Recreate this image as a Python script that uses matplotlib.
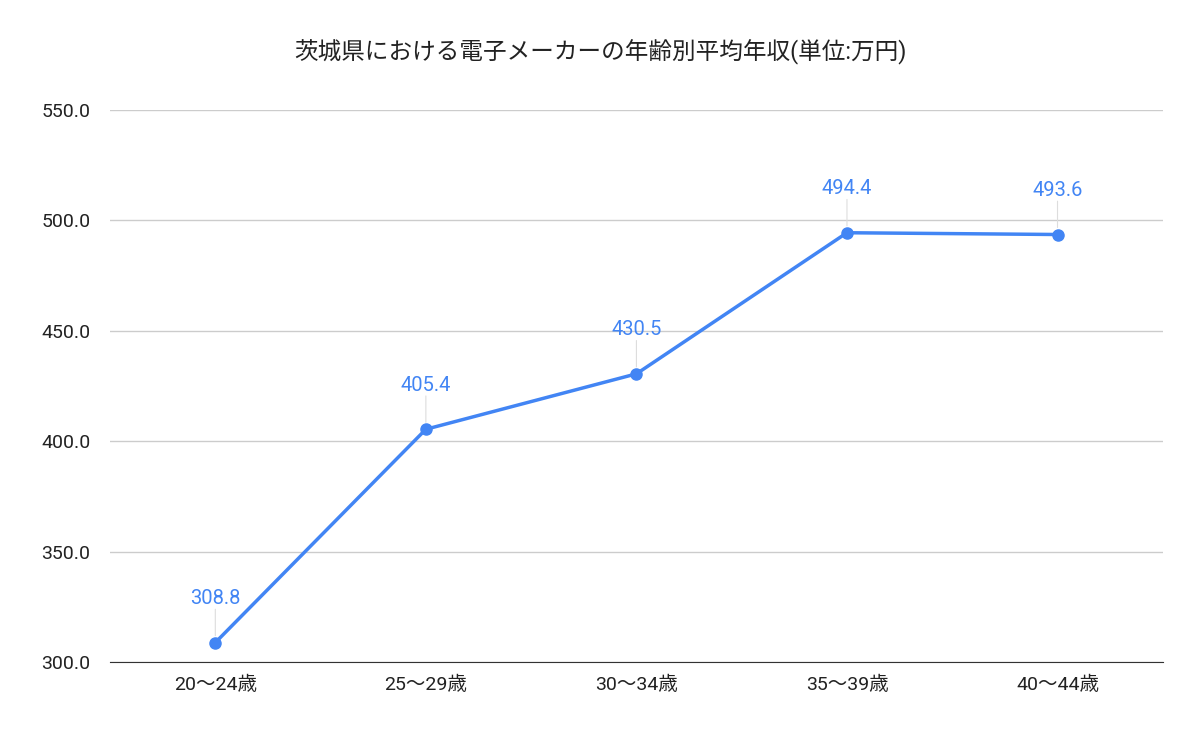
import matplotlib
matplotlib.use("Agg")
import matplotlib.pyplot as plt

plt.rcParams['font.family'] = ['Roboto', 'Noto Sans CJK JP', 'DejaVu Sans']

categories = ["20〜24歳", "25〜29歳", "30〜34歳", "35〜39歳", "40〜44歳"]
values = [308.8, 405.4, 430.5, 494.4, 493.6]
yticks = [300, 350, 400, 450, 500, 550]
title = "茨城県における電子メーカーの年齢別平均年収(単位:万円)"

color = "#4285F4"
fig = plt.figure(figsize=(12, 7.42), dpi=100)
ax = fig.add_axes([0.0917, 0.1078, 0.8773, 0.744])
x = list(range(len(categories)))
ax.plot(x, values, color=color, lw=2.5, marker="o", ms=8, zorder=3)
for xi, v in zip(x, values):
    ax.annotate("", xy=(xi, v), xytext=(0, 24), textcoords="offset points",
                arrowprops=dict(arrowstyle="-", color="#dddddd", lw=0.8, shrinkA=0, shrinkB=5))
    ax.annotate(f"{v:.1f}", xy=(xi, v), xytext=(0, 25), textcoords="offset points",
                ha="center", va="bottom", color=color, fontsize=14.5)
ax.set_xlim(-0.5, len(categories) - 0.5)
ax.set_ylim(300, 550)
ax.set_yticks(yticks)
ax.set_yticklabels([f"{t:.1f}" for t in yticks], fontsize=14, color="#222222")
ax.set_xticks(x)
ax.set_xticklabels(categories, fontsize=14, color="#222222")
ax.grid(axis="y", color="#cccccc", lw=1)
ax.set_axisbelow(True)
for s in ["top", "right", "left"]:
    ax.spines[s].set_visible(False)
ax.spines["bottom"].set_color("#333333")
ax.tick_params(length=0, pad=10)
ax.tick_params(axis="y", pad=14)
fig.text(0.5, 0.93, title, ha="center", va="center", fontsize=17, color="#222222")
fig.savefig("out.png", dpi=100)
